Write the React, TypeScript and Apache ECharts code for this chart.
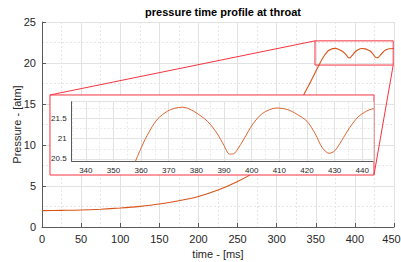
import React, { useEffect, useRef } from "react";
import * as echarts from "echarts";

// ---- data ----
const timeMs: number[] = [
  0, 25, 50, 75, 100, 125, 150, 175, 200, 225, 250, 270, 285, 300, 315, 330, 340,
  348, 353, 356, 358, 361, 363.5, 366, 369.5, 372, 375, 379, 384, 387.5, 390, 392,
  393.5, 395, 397, 400.5, 404, 409, 413, 416.5, 420, 423, 425.5, 428, 430, 432.5,
  435.5, 438.5, 441.5, 444, 450,
];
const pressureAtm: number[] = [
  2.0, 2.03, 2.07, 2.17, 2.32, 2.52, 2.8, 3.2, 3.72, 4.5, 5.55, 6.6, 7.9, 10.0, 12.5,
  15.3, 17.1, 18.6, 19.55, 20.1, 20.45, 20.92, 21.24, 21.49, 21.68, 21.75, 21.78,
  21.68, 21.43, 21.13, 20.83, 20.62, 20.63, 20.75, 20.97, 21.37, 21.63, 21.76, 21.72,
  21.6, 21.43, 21.12, 20.78, 20.64, 20.7, 20.95, 21.28, 21.54, 21.68, 21.74, 21.76,
];

// zoomed region shown in the inset (main-axes data units)
const zoomTime: number[] = [349, 449];
const zoomPressure: number[] = [19.75, 22.7];
// inset axis ranges
const insetTime: number[] = [334.9, 443.8];
const insetPressure: number[] = [20.45, 21.915];

// ---- layout constants ----
const INSET_BOX_T = [10.2, 424.4]; // inset frame in main-axes units
const INSET_BOX_P = [6.34, 16.1];

const RED = "#f5333f";
const LINE = "#D95319";
const AX = "#5a5a5a";
const FONT = "'Liberation Sans', Arial, sans-serif";

export default function App() {
  const ref = useRef<HTMLDivElement>(null);
  useEffect(() => {
    document.body.style.margin = "0";
    const chart = echarts.init(ref.current!, undefined, { renderer: "svg" });
    const series = timeMs.map((t, i) => [t, pressureAtm[i]]);
    const isMult = (v: number, step: number) =>
      Math.abs(v / step - Math.round(v / step)) < 1e-6;

    const option: any = {
      animation: false,
      textStyle: { fontFamily: FONT },
      title: {
        text: "pressure time profile at throat",
        left: 218,
        top: 1,
        textAlign: "center",
        textStyle: { fontSize: 11, fontWeight: "bold", color: "#000", fontFamily: FONT },
      },
      grid: [
        { left: 42, top: 22, width: 352, height: 205, containLabel: false, outerBoundsMode: "none" },
        { left: 71.7, top: 101.7, width: 301.1, height: 59.3, containLabel: false, outerBoundsMode: "none" },
      ],
      xAxis: [
        {
          gridIndex: 0,
          type: "value",
          min: 0,
          max: 450,
          interval: 50,
          name: "time - [ms]",
          nameLocation: "middle",
          nameGap: 21,
          nameMoveOverlap: false,
          nameTextStyle: { fontSize: 11, color: "#262626" },
          axisLine: { show: true, lineStyle: { color: AX, width: 1 } },
          axisTick: { show: true, inside: true, length: 4, lineStyle: { color: AX } },
          axisLabel: {
            fontSize: 11,
            color: "#262626",
            margin: 6,
            formatter: (v: number) => (v >= 450 ? "{m|" + v + "}" : String(v)),
            rich: { m: { fontSize: 11, color: "#262626", padding: [0, 5, 0, 0] } },
          },
          splitLine: { show: true, lineStyle: { color: "#e2e2e2", width: 1 } },
          minorTick: { show: false, splitNumber: 2 },
          minorSplitLine: { show: true, lineStyle: { color: "#e6e6e6", type: [2, 2] } },
          z: 0,
        },
        {
          gridIndex: 1,
          type: "value",
          min: insetTime[0],
          max: insetTime[1],
          splitNumber: 11,
          axisLine: { show: true, lineStyle: { color: AX, width: 1 } },
          axisTick: { show: false },
          axisLabel: {
            fontSize: 8,
            color: "#262626",
            margin: 5,
            showMinLabel: false,
            showMaxLabel: false,
            formatter: (v: number) => (isMult(v, 10) ? String(Math.round(v)) : ""),
          },
          splitLine: { show: true, lineStyle: { color: "#e2e2e2", width: 1 } },
          minorTick: { show: false, splitNumber: 2 },
          minorSplitLine: { show: true, lineStyle: { color: "#e8e8e8", type: [2, 2] } },
          z: 4,
        },
      ],
      yAxis: [
        {
          gridIndex: 0,
          type: "value",
          min: 0,
          max: 25,
          interval: 5,
          name: "Pressure - [atm]",
          nameLocation: "middle",
          nameGap: 20,
          nameMoveOverlap: false,
          nameTextStyle: { fontSize: 11, color: "#262626" },
          axisLine: { show: true, lineStyle: { color: AX, width: 1 } },
          axisTick: { show: true, inside: true, length: 4, lineStyle: { color: AX } },
          axisLabel: { fontSize: 11, color: "#262626", margin: 6 },
          splitLine: { show: true, lineStyle: { color: "#e2e2e2", width: 1 } },
          minorTick: { show: false, splitNumber: 2 },
          minorSplitLine: { show: true, lineStyle: { color: "#e6e6e6", type: [2, 2] } },
          z: 0,
        },
        {
          gridIndex: 1,
          type: "value",
          min: insetPressure[0],
          max: insetPressure[1],
          splitNumber: 3,
          axisLine: { show: true, lineStyle: { color: AX, width: 1 } },
          axisTick: { show: false },
          axisLabel: {
            fontSize: 8,
            color: "#262626",
            margin: 5,
            showMinLabel: false,
            showMaxLabel: false,
            formatter: (v: number) => (isMult(v, 0.5) ? String(Math.round(v * 10) / 10) : ""),
          },
          splitLine: { show: true, lineStyle: { color: "#e2e2e2", width: 1 } },
          minorTick: { show: false, splitNumber: 2 },
          minorSplitLine: { show: true, lineStyle: { color: "#e8e8e8", type: [2, 2] } },
          z: 4,
        },
      ],
      series: [
        {
          type: "line",
          xAxisIndex: 0,
          yAxisIndex: 0,
          data: series,
          showSymbol: false,
          smooth: 0.3,
          lineStyle: { color: LINE, width: 1.1 },
          z: 2,
        },
        {
          type: "custom",
          xAxisIndex: 0,
          yAxisIndex: 0,
          data: [[0, 0]],
          z: 3,
          silent: true,
          renderItem: (_p: any, api: any) => {
            const zTL = api.coord([zoomTime[0], zoomPressure[1]]);
            const zBR = api.coord([zoomTime[1], zoomPressure[0]]);
            const iTL = api.coord([INSET_BOX_T[0], INSET_BOX_P[1]]);
            const iBR = api.coord([INSET_BOX_T[1], INSET_BOX_P[0]]);
            return {
              type: "group",
              children: [
                {
                  type: "rect",
                  shape: { x: iTL[0], y: iTL[1], width: iBR[0] - iTL[0], height: iBR[1] - iTL[1] },
                  style: { fill: "#ffffff", stroke: RED, lineWidth: 1 },
                },
                {
                  type: "rect",
                  shape: { x: zTL[0], y: zTL[1], width: zBR[0] - zTL[0], height: zBR[1] - zTL[1] },
                  style: { fill: "none", stroke: RED, lineWidth: 1 },
                },
                {
                  type: "line",
                  shape: { x1: zTL[0], y1: zTL[1], x2: iTL[0], y2: iTL[1] },
                  style: { stroke: RED, lineWidth: 1 },
                },
                {
                  type: "line",
                  shape: { x1: zBR[0], y1: zBR[1], x2: iBR[0], y2: iBR[1] },
                  style: { stroke: RED, lineWidth: 1 },
                },
              ],
            };
          },
        },
        {
          type: "line",
          xAxisIndex: 1,
          yAxisIndex: 1,
          data: series,
          showSymbol: false,
          smooth: 0.3,
          clip: true,
          lineStyle: { color: LINE, width: 0.9 },
          z: 5,
        },
      ],
    };
    chart.setOption(option);
    return () => chart.dispose();
  }, []);
  return <div ref={ref} style={{ width: 401, height: 262 }} />;
}
